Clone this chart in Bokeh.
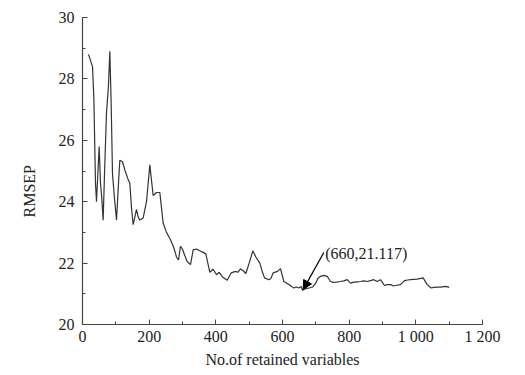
from bokeh.plotting import figure
from bokeh.models import Range1d, FixedTicker, Label, Arrow, NormalHead, Title
from bokeh.embed import file_html
from bokeh.resources import INLINE

# ---- data ----
n_vars = [18, 30, 34, 39, 42, 46, 50, 54, 58, 62, 66, 72, 78, 82, 86, 90, 96, 102,
          108, 112, 120, 128, 136, 142, 147, 152, 157, 162, 167, 172, 182, 192, 197,
          202, 207, 212, 222, 232, 237, 242, 252, 264, 274, 282, 288, 294, 300, 306,
          314, 324, 332, 342, 352, 362, 370, 382, 392, 402, 410, 420, 434, 446, 459,
          466, 474, 482, 490, 500, 511, 520, 532, 540, 546, 559, 565, 572, 585, 594,
          604, 612, 619, 626, 634, 642, 649, 656, 660, 670, 680, 690, 700, 706, 714,
          724, 734, 744, 752, 762, 774, 784, 794, 804, 814, 824, 834, 844, 854, 864,
          874, 884, 894, 906, 914, 924, 932, 939, 954, 966, 976, 984, 994, 1004, 1014,
          1022, 1034, 1046, 1054, 1064, 1074, 1089, 1100]
rmsep = [28.8, 28.4, 27.4, 24.6, 24.0, 24.9, 25.8, 24.6, 24.1, 23.4, 24.9, 26.9,
         27.8, 28.9, 27.2, 24.9, 24.1, 23.4, 24.6, 25.35, 25.3, 25.0, 24.75, 24.6,
         23.8, 23.25, 23.5, 23.75, 23.5, 23.4, 23.47, 24.0, 24.6, 25.2, 24.7, 24.2,
         24.3, 24.3, 23.8, 23.3, 23.0, 22.76, 22.5, 22.2, 22.1, 22.55, 22.45, 22.27,
         22.05, 21.95, 22.43, 22.46, 22.4, 22.35, 22.3, 21.7, 21.8, 21.62, 21.7,
         21.55, 21.44, 21.68, 21.73, 21.7, 21.81, 21.75, 21.66, 22.0, 22.4, 22.2,
         22.0, 21.7, 21.52, 21.46, 21.5, 21.68, 21.73, 21.82, 21.4, 21.35, 21.3,
         21.25, 21.19, 21.22, 21.19, 21.24, 21.117, 21.17, 21.19, 21.22, 21.35, 21.5,
         21.57, 21.6, 21.57, 21.4, 21.37, 21.38, 21.4, 21.42, 21.46, 21.35, 21.38,
         21.39, 21.4, 21.42, 21.4, 21.43, 21.46, 21.4, 21.46, 21.27, 21.3, 21.3,
         21.26, 21.27, 21.3, 21.43, 21.45, 21.46, 21.47, 21.48, 21.5, 21.52, 21.3,
         21.19, 21.21, 21.22, 21.22, 21.24, 21.21]

x_ticks = [0, 200, 400, 600, 800, 1000, 1200]
x_tick_labels = ["0", "200", "400", "600", "800", "1 000", "1 200"]
y_ticks = [20, 22, 24, 26, 28, 30]

best_x = 660
best_y = 21.117

FONT = "Liberation Serif"
INK = "#222222"

p = figure(width=520, height=370, output_backend="svg", toolbar_location=None,
           x_range=Range1d(0, 1200), y_range=Range1d(20, 30))
p.min_border_left = 82
p.min_border_right = 38
p.min_border_top = 17
p.min_border_bottom = 45
p.outline_line_color = None
p.grid.visible = False
p.background_fill_color = "white"
p.border_fill_color = "white"

p.line(n_vars, rmsep, line_color="#333333", line_width=1.2)

# axes
p.xaxis.ticker = FixedTicker(ticks=x_ticks, minor_ticks=list(range(0, 1201, 100)))
p.xaxis.major_label_overrides = {t: l for t, l in zip(x_ticks, x_tick_labels)}
p.yaxis.ticker = FixedTicker(ticks=y_ticks, minor_ticks=list(range(20, 31)))
for ax in (p.xaxis[0], p.yaxis[0]):
    ax.axis_line_color = "#444444"
    ax.axis_line_width = 1.2
    ax.major_tick_line_color = "#444444"
    ax.minor_tick_line_color = "#444444"
    ax.major_tick_in = 5
    ax.major_tick_out = 0
    ax.minor_tick_in = 3
    ax.minor_tick_out = 0
    ax.major_label_text_font = FONT
    ax.major_label_text_font_size = "16px"
    ax.major_label_text_color = INK
    ax.axis_label_text_font = FONT
    ax.axis_label_text_font_size = "16px"
    ax.axis_label_text_font_style = "normal"
    ax.axis_label_text_color = INK
p.xaxis.major_label_standoff = 3
p.yaxis.major_label_standoff = 8
p.xaxis.axis_label = "No.of retained variables"
p.xaxis.axis_label_standoff = 3

# y-axis title placed like the reference (slightly below centre)
p.add_layout(Title(text="RMSEP", align="left", offset=107, standoff=35,
                   text_font=FONT, text_font_size="16px", text_color=INK,
                   text_font_style="normal"), "left")

# annotation of the minimum
tail_x = best_x + 64
tail_y = best_y + 1.23
p.add_layout(Arrow(x_start=tail_x, y_start=tail_y, x_end=best_x + 2, y_end=best_y + 0.02,
                   line_color="black", line_width=1.2,
                   end=NormalHead(size=9, fill_color="black", line_color="black")))
p.add_layout(Label(x=tail_x + 4, y=tail_y - 0.05,
                   text="(%d,%.3f)" % (best_x, best_y), text_font=FONT,
                   text_font_size="16px", text_color=INK,
                   text_align="left", text_baseline="middle"))

open("out.html", "w").write(file_html(p, INLINE))
